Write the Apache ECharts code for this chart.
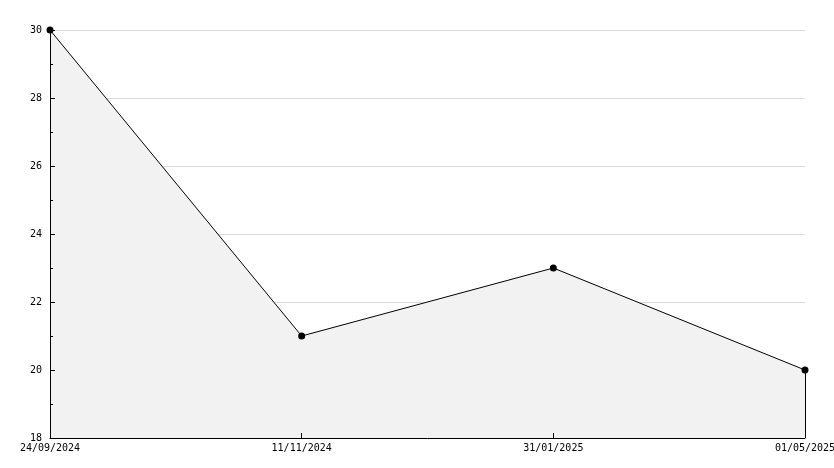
<!DOCTYPE html>
<html><head><meta charset="utf-8">
<script src="https://cdn.jsdelivr.net/npm/echarts@6/dist/echarts.min.js"></script>
<style>html,body{margin:0;padding:0;background:#fff}#c{width:834px;height:468px}</style>
</head><body><div id="c"></div>
<script>
const categories = ['24/09/2024', '11/11/2024', '31/01/2025', '01/05/2025'];
const values = [30, 21, 23, 20];
const yMin = 18, yMax = 30, yStep = 2;
const font = 'DejaVu Sans Mono';
const chart = echarts.init(document.getElementById('c'), null, {renderer: 'canvas'});
chart.setOption({
  animation: false,
  grid: {left: 50, right: 29, top: 30, bottom: 30, containLabel: false, outerBoundsMode: 'none'},
  xAxis: {
    type: 'category', data: categories, boundaryGap: false, z: 5,
    axisLine: {lineStyle: {color: '#000', width: 1}},
    axisTick: {inside: true, length: 5, lineStyle: {color: '#000'}},
    axisLabel: {color: '#000', fontFamily: font, fontSize: 10, margin: 5, showMinLabel: true, showMaxLabel: true, interval: 0, hideOverlap: false},
    splitLine: {show: false}
  },
  yAxis: [{
    type: 'value', min: yMin, max: yMax, interval: yStep, z: 5,
    axisLine: {show: true, lineStyle: {color: '#000', width: 1}},
    axisTick: {show: true, inside: true, length: 5, lineStyle: {color: '#000'}},
    minorTick: {show: true, splitNumber: 2, length: 3, lineStyle: {color: '#000'}},
    axisLabel: {color: '#000', fontFamily: font, fontSize: 10, margin: 8},
    splitLine: {show: false}
  }, {
    type: 'value', min: yMin, max: yMax, interval: yStep, z: 0, position: 'left',
    axisLine: {show: false}, axisTick: {show: false}, axisLabel: {show: false},
    splitLine: {show: true, lineStyle: {color: '#dcdcdc', width: 1}}
  }],
  series: [{
    type: 'line', data: values, z: 2, yAxisIndex: 0,
    symbol: 'circle', symbolSize: 7,
    itemStyle: {color: '#000'},
    lineStyle: {color: '#000', width: 1},
    areaStyle: {color: '#f2f2f2', opacity: 1, origin: 'start'},
    markLine: {
      silent: true, symbol: ['none', 'none'], label: {show: false},
      lineStyle: {color: '#000', width: 1, type: 'solid'},
      data: [[{coord: [categories.length - 1, values[values.length - 1]]}, {coord: [categories.length - 1, yMin]}]]
    }
  }]
});
</script></body></html>
